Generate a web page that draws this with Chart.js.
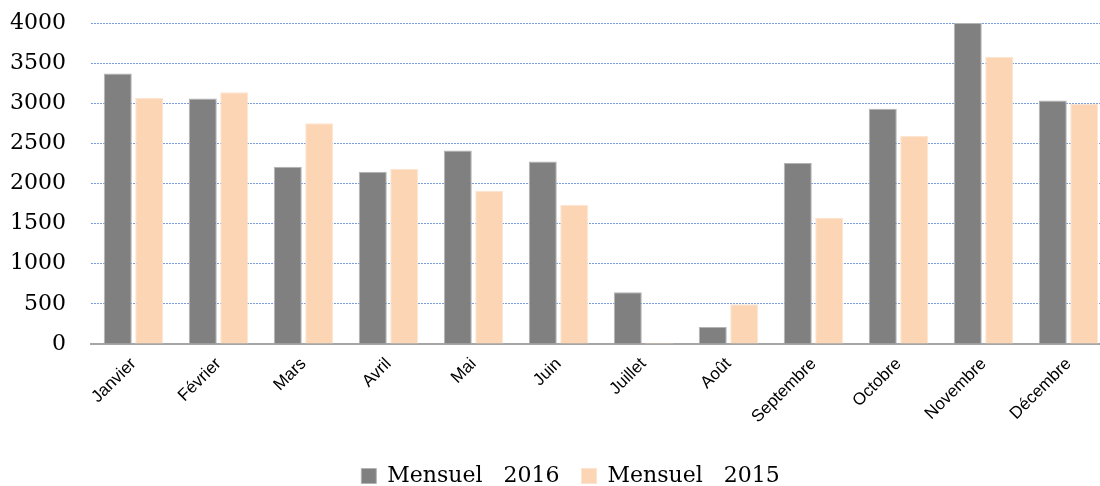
<!DOCTYPE html>
<html>
<head>
<meta charset="utf-8">
<script src="https://cdn.jsdelivr.net/npm/chart.js@4"></script>
<style>
  html, body { margin: 0; padding: 0; background: #fff; overflow: hidden; }
  #wrap { width: 1112px; height: 486px; }
</style>
</head>
<body>
<div id="wrap"><canvas id="monthChart"></canvas></div>
<script>
const months = ["Janvier", "Février", "Mars", "Avril", "Mai", "Juin",
  "Juillet", "Août", "Septembre", "Octobre", "Novembre", "Décembre"];
const mensuel2016 = [3370, 3060, 2210, 2145, 2410, 2275, 645, 212, 2255, 2933, 4000, 3033];
const mensuel2015 = [3070, 3137, 2750, 2183, 1905, 1733, 15, 496, 1571, 2596, 3580, 2990];
const yTicks = [0, 500, 1000, 1500, 2000, 2500, 3000, 3500, 4000];

// legend sits a bit right of centre and lower in the original
const shiftLegend = {
  id: "shiftLegend",
  afterLayout(chart) {
    const lg = chart.legend;
    lg.left += 15;
    lg.right += 15;
    lg.top += 11;
    lg.bottom += 11;
  },
};

new Chart(document.getElementById("monthChart"), {
  type: "bar",
  data: {
    labels: months,
    datasets: [
      {
        label: "Mensuel   2016",
        data: mensuel2016,
        backgroundColor: "#808080",
        borderColor: "#b3b3b3",
        borderWidth: 1,
        categoryPercentage: 0.74,
        barPercentage: 0.89,
      },
      {
        label: "Mensuel   2015",
        data: mensuel2015,
        backgroundColor: "#fcd5b5",
        borderColor: "#fde4d0",
        borderWidth: 1,
        categoryPercentage: 0.74,
        barPercentage: 0.89,
      },
    ],
  },
  plugins: [shiftLegend],
  options: {
    responsive: true,
    maintainAspectRatio: false,
    animation: false,
    layout: { padding: { top: 23, right: 1, bottom: 0, left: 0 } },
    plugins: {
      tooltip: { enabled: false },
      legend: {
        position: "bottom",
        labels: {
          color: "#000",
          boxWidth: 15,
          boxHeight: 15,
          padding: 22,
          font: { family: "DejaVu Serif", size: 22 },
        },
      },
    },
    scales: {
      x: {
        grid: { display: false },
        border: { color: "#a6a6a6", width: 2 },
        ticks: {
          color: "#000",
          minRotation: 45,
          maxRotation: 45,
          padding: 2,
          font: { family: "Liberation Sans", size: 17 },
        },
        afterFit: (scale) => { scale.height = 88; },
      },
      y: {
        min: 0,
        max: 4000,
        afterBuildTicks: (scale) => {
          scale.ticks = yTicks.map((v) => ({ value: v }));
        },
        grid: {
          color: "#7b9ddb",
          lineWidth: 1,
          drawTicks: true,
          tickLength: 25,
          tickColor: "rgba(0,0,0,0)",
        },
        border: { display: false, dash: [2, 1] },
        ticks: {
          color: "#000",
          padding: 0,
          font: { family: "DejaVu Serif", size: 22 },
          callback: (v) => String(v),
        },
        afterFit: (scale) => { scale.width = 91; },
      },
    },
  },
});
</script>
</body>
</html>
